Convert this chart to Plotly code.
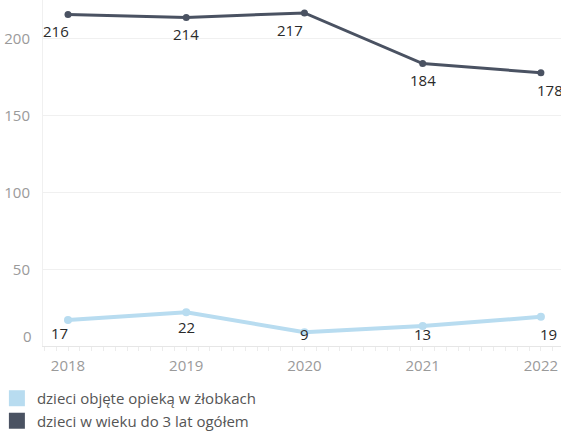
import plotly.graph_objects as go

years = [2018, 2019, 2020, 2021, 2022]
total = [216, 214, 217, 184, 178]
nursery = [17, 22, 9, 13, 19]
name_nursery = "dzieci objęte opieką w żłobkach"
name_total = "dzieci w wieku do 3 lat ogółem"
y_ticks = [0, 50, 100, 150, 200]

DARK = "#4a5262"
LIGHT = "#b8dcf0"
FONT = "Open Sans"

# label offsets (px) per point: (xshift, yshift)
total_shift = [(-12, -17), (0, -16), (-14, -17), (0, -16), (9, -17)]
nursery_shift = [(-9, -13), (0, -15), (0, -2), (0, -8), (8, -17)]

fig = go.Figure()
fig.add_trace(go.Scatter(x=years, y=nursery, mode="lines+markers",
                         line=dict(color=LIGHT, width=4),
                         marker=dict(color=LIGHT, size=8),
                         showlegend=False, hoverinfo="skip"))
fig.add_trace(go.Scatter(x=years, y=total, mode="lines+markers",
                         line=dict(color=DARK, width=3),
                         marker=dict(color=DARK, size=7),
                         showlegend=False, hoverinfo="skip"))
# legend entries with square swatches
fig.add_trace(go.Scatter(x=[None], y=[None], mode="markers", name=name_nursery,
                         marker=dict(color=LIGHT, size=16, symbol="square")))
fig.add_trace(go.Scatter(x=[None], y=[None], mode="markers", name=name_total,
                         marker=dict(color=DARK, size=16, symbol="square")))

annotations = []
for xv, yv, (dx, dy) in zip(years, total, total_shift):
    annotations.append(dict(x=xv, y=yv, text=str(yv), showarrow=False,
                            xshift=dx, yshift=dy, xanchor="center", yanchor="middle",
                            font=dict(family=FONT, size=15, color="#2a2a2a")))
for xv, yv, (dx, dy) in zip(years, nursery, nursery_shift):
    annotations.append(dict(x=xv, y=yv, text=str(yv), showarrow=False,
                            xshift=dx, yshift=dy, xanchor="center", yanchor="middle",
                            font=dict(family=FONT, size=15, color="#2a2a2a")))
# bottom "0" tick label lifted inside, as in the reference
annotations.append(dict(xref="paper", x=0, y=y_ticks[0], text=str(y_ticks[0]), showarrow=False,
                        xanchor="right", yanchor="middle", xshift=-9, yshift=10,
                        font=dict(family=FONT, size=15, color="#9a9a9a")))

fig.update_layout(
    width=561, height=432,
    margin=dict(l=43, r=0, t=0, b=86, autoexpand=False),
    paper_bgcolor="white", plot_bgcolor="white",
    font=dict(family=FONT, size=15, color="#9a9a9a"),
    annotations=annotations,
    legend=dict(orientation="v", x=-0.089, xanchor="left", y=-0.104, yanchor="top",
                font=dict(family=FONT, size=15, color="#555555"),
                itemclick=False, tracegroupgap=0),
)
fig.update_xaxes(range=[2017.7885, 2022.17], tickvals=years, ticktext=[str(y) for y in years],
                 showgrid=False, zeroline=False, showline=True, linecolor="#e6e6e6",
                 ticks="outside", ticklen=0, ticklabelstandoff=6,
                 minor=dict(ticks="outside", dtick=0.1, ticklen=4, tickcolor="#ececec", showgrid=False),
                 tickfont=dict(family=FONT, size=15, color="#9a9a9a"), fixedrange=True)
fig.update_yaxes(range=[0, 225.4], tickvals=y_ticks,
                 ticktext=[""] + [str(v) for v in y_ticks[1:]],
                 showgrid=True, gridcolor="#f0f0f0", zeroline=False,
                 showline=True, linecolor="#f0f0f0", ticks="", ticklabelstandoff=9,
                 tickfont=dict(family=FONT, size=15, color="#9a9a9a"), fixedrange=True)

fig.write_html("out.html", config={"displayModeBar": False},
               post_script="document.body.style.margin='0';document.body.style.overflow='hidden';")
